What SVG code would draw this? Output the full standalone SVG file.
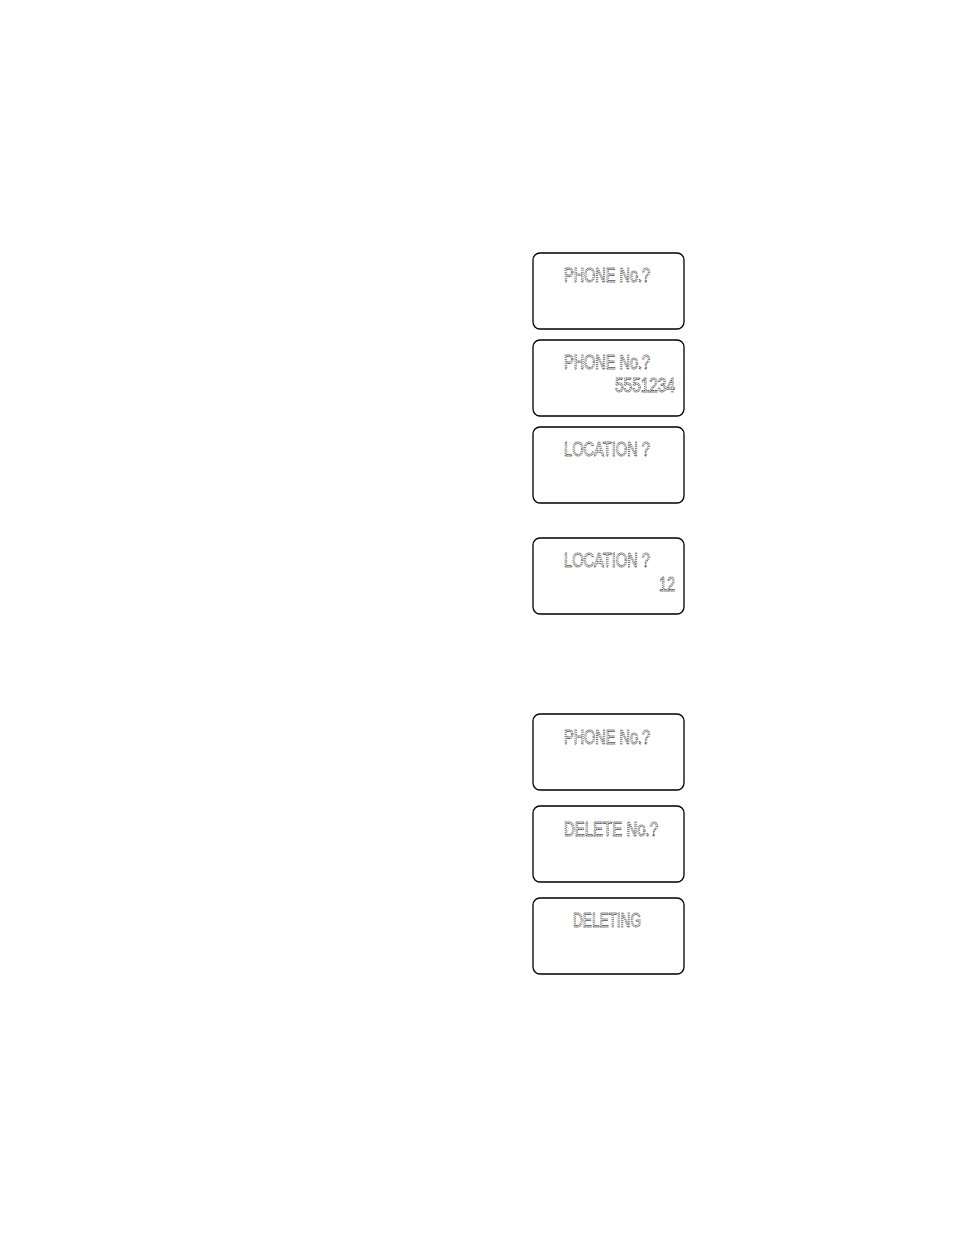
<svg xmlns="http://www.w3.org/2000/svg" width="954" height="1235" viewBox="0 0 954 1235">
<style>
.box{fill:#fff;stroke:#000;stroke-width:1.3}
.t{font-family:"Liberation Sans","DejaVu Sans",sans-serif;font-size:20px;fill:none;stroke:#222;stroke-width:0.9;stroke-dasharray:1.2 0.9}
</style>
<rect width="954" height="1235" fill="#fff"/>
<g id="node1"><rect class="box" x="533" y="253" width="151" height="76" rx="7"/><text class="t" x="564" y="282" textLength="86" lengthAdjust="spacingAndGlyphs">PHONE No.?</text></g>
<g id="node2"><rect class="box" x="533" y="340" width="151" height="76" rx="7"/><text class="t" x="564" y="369" textLength="86" lengthAdjust="spacingAndGlyphs">PHONE No.?</text><text class="t" x="615" y="392" textLength="60" lengthAdjust="spacingAndGlyphs">5551234</text></g>
<g id="node3"><rect class="box" x="533" y="427" width="151" height="76" rx="7"/><text class="t" x="564" y="456" textLength="86" lengthAdjust="spacingAndGlyphs">LOCATION ?</text></g>
<g id="node4"><rect class="box" x="533" y="538" width="151" height="76" rx="7"/><text class="t" x="564" y="567" textLength="86" lengthAdjust="spacingAndGlyphs">LOCATION ?</text><text class="t" x="659" y="591" textLength="16" lengthAdjust="spacingAndGlyphs">12</text></g>
<g id="node5"><rect class="box" x="533" y="714" width="151" height="76" rx="7"/><text class="t" x="564" y="744" textLength="86" lengthAdjust="spacingAndGlyphs">PHONE No.?</text></g>
<g id="node6"><rect class="box" x="533" y="806" width="151" height="76" rx="7"/><text class="t" x="564" y="836" textLength="94" lengthAdjust="spacingAndGlyphs">DELETE No.?</text></g>
<g id="node7"><rect class="box" x="533" y="898" width="151" height="76" rx="7"/><text class="t" x="573" y="927" textLength="68" lengthAdjust="spacingAndGlyphs">DELETING</text></g>
<g id="connectors"></g>
</svg>
